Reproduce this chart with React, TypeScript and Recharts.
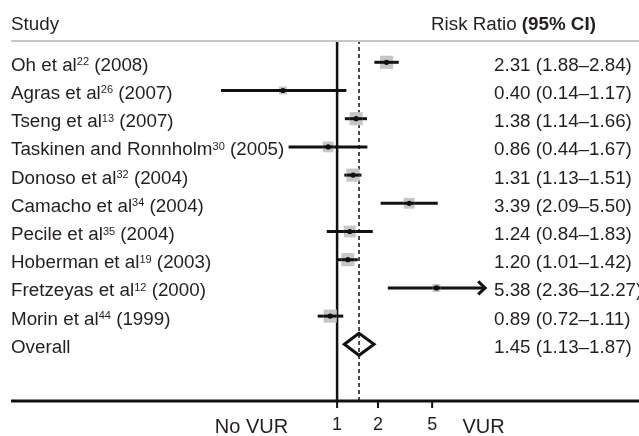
import { ScatterChart, Scatter, XAxis, YAxis, ErrorBar, ReferenceLine } from "recharts";

// one row per study, last entry is the pooled estimate
const studies = ["Oh et al", "Agras et al", "Tseng et al", "Taskinen and Ronnholm", "Donoso et al", "Camacho et al", "Pecile et al", "Hoberman et al", "Fretzeyas et al", "Morin et al", "Overall"];
const refs = ["22", "26", "13", "30", "32", "34", "35", "19", "12", "44", ""];
const years = ["2008", "2007", "2007", "2005", "2004", "2004", "2004", "2003", "2000", "1999", ""];
const riskRatio = [2.31, 0.4, 1.38, 0.86, 1.31, 3.39, 1.24, 1.2, 5.38, 0.89, 1.45];
const ciLow = [1.88, 0.14, 1.14, 0.44, 1.13, 2.09, 0.84, 1.01, 2.36, 0.72, 1.13];
const ciHigh = [2.84, 1.17, 1.66, 1.67, 1.51, 5.5, 1.83, 1.42, 12.27, 1.11, 1.87];
const weights = [12.5, 4.5, 12.5, 9, 12.5, 9, 10.5, 12.5, 4.5, 12.5];
const xTicks = [1, 2, 5];
const arrowLimit = 10;

const font = "'Liberation Sans', Arial, sans-serif";
const ink = "#231f20";
const overall = studies.length - 1;

const studyRows = weights.map((w, i) => ({
  x: riskRatio[i],
  row: i,
  w,
  err: [riskRatio[i] - ciLow[i], ciHigh[i] - riskRatio[i]],
}));

const arrowRows = studyRows
  .filter((r) => ciHigh[r.row] > arrowLimit)
  .map((r) => ({ x: ciHigh[r.row], row: r.row }));

const dh = 0.39;
const diamond = [
  { x: ciLow[overall], row: overall },
  { x: riskRatio[overall], row: overall - dh },
  { x: ciHigh[overall], row: overall },
  { x: riskRatio[overall], row: overall + dh },
  { x: ciLow[overall], row: overall },
  { x: riskRatio[overall], row: overall - dh },
];

const rowTicks = studies.map((_, i) => i);

const fmt = (i: number) =>
  `${riskRatio[i].toFixed(2)} (${ciLow[i].toFixed(2)}\u2013${ciHigh[i].toFixed(2)})`;

const sqSize = (w: number) => 5 + w * 0.65;

function RowTick(props: any) {
  const { x, y, payload } = props;
  const i = Math.round(payload.value as number);
  return (
    <g>
      <text x={x} y={y + 8.5} textAnchor="start" fontSize={18.8} fill={ink} fontFamily={font}>
        {studies[i]}
        {refs[i] && (
          <tspan dy={-5.5} fontSize={11}>
            {refs[i]}
          </tspan>
        )}
        {years[i] && <tspan dy={refs[i] ? 5.5 : 0}>{` (${years[i]})`}</tspan>}
      </text>
      <text x={x + 483} y={y + 8.5} textAnchor="start" fontSize={18.8} fill={ink} fontFamily={font}>
        {fmt(i)}
      </text>
    </g>
  );
}

function WeightSquare(props: any) {
  const { cx, cy, payload } = props;
  const s = sqSize(payload.w);
  return <rect x={cx - s / 2} y={cy - s / 2} width={s} height={s} fill="#c6c6c6" />;
}

// dot plus the part of the CI line that crosses the square
function PointDot(props: any) {
  const { cx, cy, payload } = props;
  const s = sqSize(payload.w);
  return (
    <g>
      <line x1={cx - s / 2} x2={cx + s / 2} y1={cy} y2={cy} stroke="#111" strokeWidth={3} />
      <circle cx={cx} cy={cy} r={2.6} fill="#111" />
    </g>
  );
}

function ArrowHead(props: any) {
  const { cx, cy } = props;
  return (
    <path
      d={`M${cx - 7},${cy - 6.5}L${cx},${cy}L${cx - 7},${cy + 6.5}`}
      fill="none"
      stroke="#111"
      strokeWidth={3}
    />
  );
}

const Empty = () => <g />;

export default function App() {
  return (
    <div style={{ position: "fixed", left: 8, top: 8, width: 631, height: 428 }}>
      <ScatterChart width={631} height={428} margin={{ top: 33, right: 0, bottom: 0, left: 2 }}>
        <XAxis
          type="number"
          dataKey="x"
          scale="log"
          domain={[0.004, 166]}
          allowDataOverflow
          ticks={xTicks}
          interval={0}
          height={35}
          tickSize={7}
          tickMargin={9}
          axisLine={{ stroke: "#111", strokeWidth: 3 }}
          tickLine={{ stroke: "#111", strokeWidth: 2 }}
          tick={{ fontSize: 18, fill: ink, fontFamily: font }}
        />
        <YAxis
          type="number"
          dataKey="row"
          domain={[-0.755, 12.01]}
          reversed
          allowDataOverflow
          ticks={rowTicks}
          interval={0}
          width={1}
          axisLine={false}
          tickLine={false}
          tickSize={0}
          tickMargin={0}
          tick={(p: any) => <RowTick {...p} />}
        />
        <ReferenceLine x={1} stroke="#111" strokeWidth={2.5} />
        <ReferenceLine x={riskRatio[overall]} stroke="#111" strokeWidth={1.5} strokeDasharray="4 3" />
        <Scatter data={studyRows} shape={WeightSquare} isAnimationActive={false} />
        <Scatter data={studyRows} shape={PointDot} isAnimationActive={false}>
          <ErrorBar dataKey="err" direction="x" width={0} stroke="#111" strokeWidth={3} />
        </Scatter>
        <Scatter data={arrowRows} shape={ArrowHead} isAnimationActive={false} />
        <Scatter
          data={diamond}
          shape={Empty}
          line={{ stroke: "#111", strokeWidth: 3 }}
          lineType="joint"
          isAnimationActive={false}
        />
      </ScatterChart>
      <svg
        width={631}
        height={428}
        style={{ position: "absolute", left: 0, top: 0, pointerEvents: "none" }}
        fontFamily={font}
      >
        <line x1={3} x2={631} y1={33} y2={33} stroke="#c8c8c8" strokeWidth={2} />
        <text x={3} y={22} fontSize={18.8} fill={ink}>
          Study
        </text>
        <text x={423} y={22} fontSize={18.8} fill={ink}>
          Risk Ratio <tspan fontWeight="bold">(95% CI)</tspan>
        </text>
        <text x={243.5} y={425} fontSize={20} fill={ink} textAnchor="middle">
          No VUR
        </text>
        <text x={475.5} y={425} fontSize={20} fill={ink} textAnchor="middle">
          VUR
        </text>
      </svg>
    </div>
  );
}
